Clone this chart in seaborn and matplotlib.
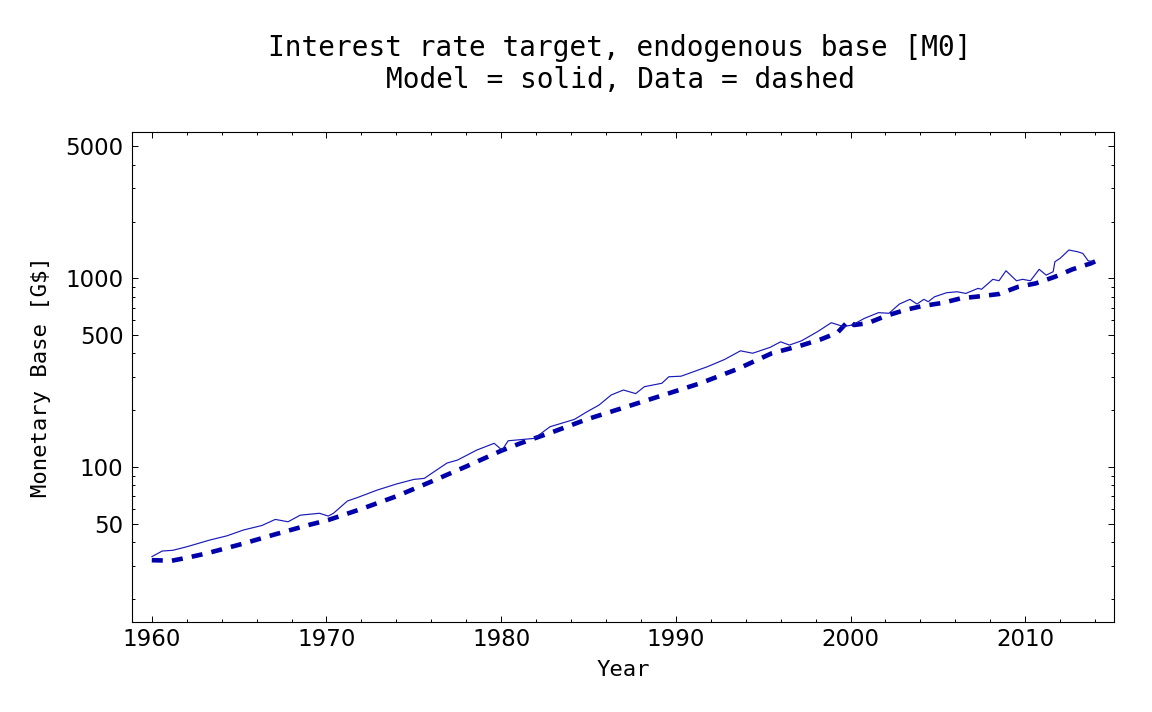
import numpy as np
import pandas as pd
import matplotlib
matplotlib.use("Agg")
import matplotlib.pyplot as plt
from matplotlib.ticker import FixedLocator, NullFormatter, FixedFormatter
import seaborn as sns

# ---- data ----
model_years = [1960.0, 1960.6, 1961.2, 1962.0, 1963.3, 1964.3, 1965.25, 1966.3, 1967.07, 1967.8,
               1968.5, 1969.6, 1970.1, 1970.4, 1971.2, 1971.75, 1972.9, 1974.0, 1975.0, 1975.6,
               1976.3, 1976.9, 1977.5, 1978.6, 1979.6, 1980.05, 1980.4, 1981.9, 1982.8, 1984.2,
               1984.9, 1985.6, 1986.3, 1987.0, 1987.7, 1988.2, 1989.2, 1989.6, 1990.3, 1991.8,
               1992.8, 1993.7, 1994.4, 1995.4, 1996.0, 1996.5, 1997.2, 1998.1, 1998.9, 1999.6,
               2000.1, 2000.8, 2001.6, 2002.2, 2002.8, 2003.4, 2003.8, 2004.2, 2004.45, 2004.8,
               2005.5, 2006.1, 2006.6, 2007.3, 2007.5, 2008.15, 2008.5, 2008.9, 2009.5, 2009.85,
               2010.3, 2010.8, 2011.2, 2011.6, 2011.7, 2012.0, 2012.5, 2013.0, 2013.3, 2013.6,
               2013.9]
model_values = [33.5, 35.9, 36.2, 37.8, 41.0, 43.2, 46.4, 49.0, 52.8, 51.3,
                55.6, 56.9, 55.0, 56.9, 66.1, 68.8, 75.5, 81.3, 86.0, 87.1,
                96.4, 105.0, 108.9, 123.0, 133.6, 123.0, 137.8, 141.9, 163.6, 179.0,
                196.0, 213.0, 241.0, 256.0, 245.0, 266.6, 278.0, 301.0, 303.0, 340.0,
                372.0, 413.0, 401.0, 431.0, 461.0, 443.0, 467.0, 521.0, 582.0, 555.0,
                566.0, 614.0, 658.0, 653.0, 731.0, 774.0, 731.0, 774.0, 752.0, 798.0,
                839.0, 849.0, 832.0, 885.0, 875.0, 988.0, 971.0, 1097.0, 971.0, 988.0,
                971.0, 1116.0, 1040.0, 1084.0, 1225.0, 1277.0, 1413.0, 1383.0, 1355.0, 1240.0,
                1225.0]

data_years = [1960.0, 1961.15, 1962.1, 1963.15, 1965.15, 1967.06, 1968.97, 1970.1, 1972.0,
              1974.0, 1975.9, 1978.05, 1980.0, 1981.1, 1983.0, 1984.9, 1987.2, 1989.3,
              1991.4, 1993.5, 1995.5, 1996.2, 1997.25, 1998.3, 1999.25, 1999.9, 2000.2,
              2000.97, 2002.0, 2003.1, 2004.1, 2005.3, 2006.3, 2007.5, 2008.5, 2009.6,
              2010.6, 2011.7, 2012.7, 2013.75, 2014.05]
data_values = [32.1, 31.9, 33.2, 34.9, 39.1, 44.0, 49.3, 52.4, 60.0,
               70.0, 83.0, 101.2, 122.0, 133.6, 154.0, 179.0, 209.0, 241.0,
               278.0, 330.0, 401.0, 417.0, 443.0, 475.0, 515.0, 598.0, 566.0,
               578.0, 631.0, 679.0, 713.0, 742.0, 783.0, 805.0, 826.0, 902.0,
               940.0, 1019.0, 1116.0, 1200.0, 1235.0]

y_major_ticks = [50, 100, 500, 1000, 5000]
y_major_labels = ["50", "100", "500", "1000", "5000"]
y_minor_ticks = [20, 30, 40, 60, 70, 80, 90, 200, 300, 400, 600, 700, 800, 900, 2000, 3000, 4000]
x_major_ticks = [1960, 1970, 1980, 1990, 2000, 2010]
x_minor_ticks = list(range(1962, 2016, 2))

title_text = "Interest rate target, endogenous base [M0]\nModel = solid, Data = dashed"
xlabel_text = "Year"
ylabel_text = "Monetary Base [G$]"

# ---- plotting ----
sns.set_theme(style="white")
plt.rcParams["font.family"] = ["DejaVu Sans"]

fig = plt.figure(figsize=(11.52, 7.12), dpi=100)
ax = fig.add_axes([131.7 / 1152, 1 - 622 / 712, (1114.3 - 131.7) / 1152, (622 - 131.7) / 712])

model_df = pd.DataFrame({"Year": model_years, "Value": model_values})
data_df = pd.DataFrame({"Year": data_years, "Value": data_values})

blue = "#0000aa"
sns.lineplot(data=data_df, x="Year", y="Value", ax=ax, color=blue, linewidth=3.3,
             linestyle=(0, (2.4, 2.0)), dash_capstyle="butt", sort=False)
sns.lineplot(data=model_df, x="Year", y="Value", ax=ax, color="#1a1ab8", linewidth=0.85, sort=False)

ax.set_yscale("log")
ax.set_ylim(15.1, 5985)
ax.set_xlim(1958.85, 2015.1)

ax.yaxis.set_major_locator(FixedLocator(y_major_ticks))
ax.yaxis.set_major_formatter(FixedFormatter(y_major_labels))
ax.yaxis.set_minor_locator(FixedLocator(y_minor_ticks))
ax.yaxis.set_minor_formatter(NullFormatter())
ax.xaxis.set_major_locator(FixedLocator(x_major_ticks))
ax.xaxis.set_minor_locator(FixedLocator(x_minor_ticks))
ax.xaxis.set_minor_formatter(NullFormatter())

for s in ax.spines.values():
    s.set_visible(True)
    s.set_color("black")
    s.set_linewidth(0.8)

ax.tick_params(which="both", direction="in", top=True, right=True, bottom=True, left=True,
               color="black", width=0.7)
ax.tick_params(which="major", length=4.5, labelsize=16.5, pad=6, labelcolor="black")
ax.tick_params(which="minor", length=2.5)
ax.tick_params(axis="x", which="major", pad=4.5)

ax.set_xlabel(xlabel_text, fontsize=16, family="DejaVu Sans Mono", color="black", labelpad=6)
ax.set_ylabel(ylabel_text, fontsize=16, family="DejaVu Sans Mono", color="black", labelpad=10)

fig.text(620 / 1152, 1 - 64 / 712, title_text, ha="center", va="center",
         fontsize=20, family="DejaVu Sans Mono", color="black", linespacing=1.2)

ax.set_facecolor("white")
fig.patch.set_facecolor("white")
fig.savefig("out.png", dpi=100, facecolor="white")
